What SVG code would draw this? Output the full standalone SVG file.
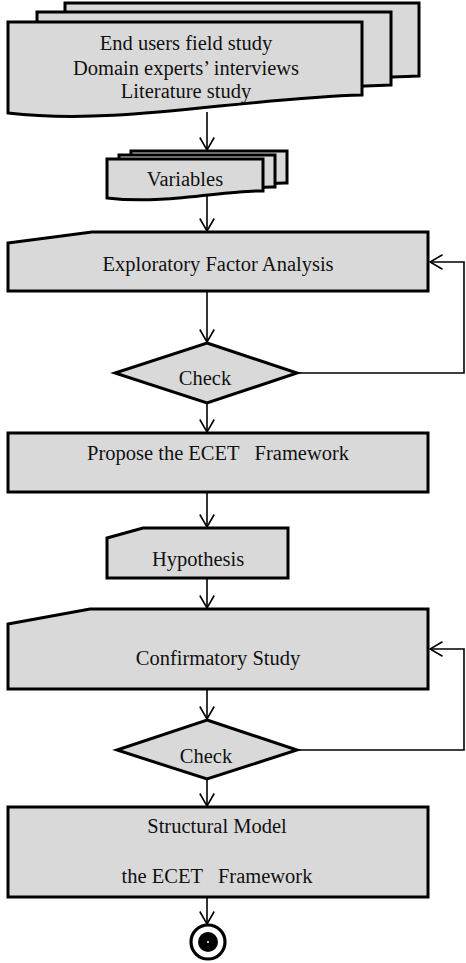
<svg xmlns="http://www.w3.org/2000/svg" width="466" height="963" viewBox="0 0 466 963">
  <style>
    .shape { fill: #d9d9d9; stroke: #000; stroke-width: 3; stroke-linejoin: miter; }
    .label { font-family: "Liberation Serif", "Times New Roman", serif; font-size: 20.5px; fill: #111; white-space: pre; }
    .mid { text-anchor: middle; }
    .edge { fill: none; stroke: #000; stroke-width: 1.6; }
  </style>
  <defs>
    <marker id="arrow" viewBox="0 0 14 16" refX="13" refY="8" markerWidth="14" markerHeight="16" markerUnits="userSpaceOnUse" orient="auto">
      <path d="M0.5,0.8 L13,8 L0.5,15.2" fill="none" stroke="#000" stroke-width="1.6"/>
    </marker>
    <path id="docTop" d="M8,22 H362 V95 C240,98 120,126 8,113 Z"/>
    <path id="docVar" d="M107,159 H263 V191 C225,190 165,205 107,198 Z"/>
  </defs>

  <!-- connectors -->
  <g id="connectors">
    <path class="edge" d="M207,112 V150" marker-end="url(#arrow)"/>
    <path class="edge" d="M207,196 V231" marker-end="url(#arrow)"/>
    <path class="edge" d="M207,291 V342" marker-end="url(#arrow)"/>
    <path class="edge" d="M297,373 H464 V262 H430" marker-end="url(#arrow)"/>
    <path class="edge" d="M207,403 V432" marker-end="url(#arrow)"/>
    <path class="edge" d="M207,492 V527" marker-end="url(#arrow)"/>
    <path class="edge" d="M207,578 V608" marker-end="url(#arrow)"/>
    <path class="edge" d="M207,689 V719" marker-end="url(#arrow)"/>
    <path class="edge" d="M297,750 H464 V649 H430" marker-end="url(#arrow)"/>
    <path class="edge" d="M207,779 V806" marker-end="url(#arrow)"/>
    <path class="edge" d="M207,897 V924" marker-end="url(#arrow)"/>
  </g>

  <!-- stacked documents: sources -->
  <g id="sources">
    <use href="#docTop" class="shape" transform="translate(57,-19)"/>
    <use href="#docTop" class="shape" transform="translate(29,-10)"/>
    <use href="#docTop" class="shape"/>
    <text class="label mid" x="186" y="50">End users field study</text>
    <text class="label mid" x="186" y="75">Domain experts’ interviews</text>
    <text class="label mid" x="186" y="98">Literature study</text>
  </g>

  <!-- stacked documents: variables -->
  <g id="variables">
    <use href="#docVar" class="shape" transform="translate(24,-8)"/>
    <use href="#docVar" class="shape" transform="translate(12,-4)"/>
    <use href="#docVar" class="shape"/>
    <text class="label mid" x="185" y="186">Variables</text>
  </g>

  <g id="efa">
    <path class="shape" d="M8,243 L92,232 H428 V291 H8 Z"/>
    <text class="label mid" x="218" y="271">Exploratory Factor Analysis</text>
  </g>

  <g id="check1">
    <path class="shape" d="M207,343 L297,373 L207,403 L115,373 Z"/>
    <text class="label mid" x="205" y="385">Check</text>
  </g>

  <g id="propose">
    <rect class="shape" x="8" y="433" width="420" height="59"/>
    <text class="label" x="87" y="460">Propose the ECET   Framework</text>
  </g>

  <g id="hypothesis">
    <path class="shape" d="M107,538 L143,528 H288 V578 H107 Z"/>
    <text class="label mid" x="198" y="566">Hypothesis</text>
  </g>

  <g id="confirmatory">
    <path class="shape" d="M8,624 L90,609 H428 V689 H8 Z"/>
    <text class="label mid" x="218" y="665">Confirmatory Study</text>
  </g>

  <g id="check2">
    <path class="shape" d="M207,720 L297,750 L207,779 L117,750 Z"/>
    <text class="label mid" x="206" y="763">Check</text>
  </g>

  <g id="structural">
    <rect class="shape" x="8" y="807" width="420" height="90"/>
    <text class="label mid" x="217" y="833">Structural Model</text>
    <text class="label mid" x="217" y="883">the ECET   Framework</text>
  </g>

  <g id="end">
    <circle cx="208" cy="942" r="17" fill="#fff" stroke="#000" stroke-width="3.2"/>
    <circle cx="208" cy="942" r="10" fill="#000"/>
    <circle cx="208" cy="942" r="1" fill="#fff"/>
  </g>
</svg>
